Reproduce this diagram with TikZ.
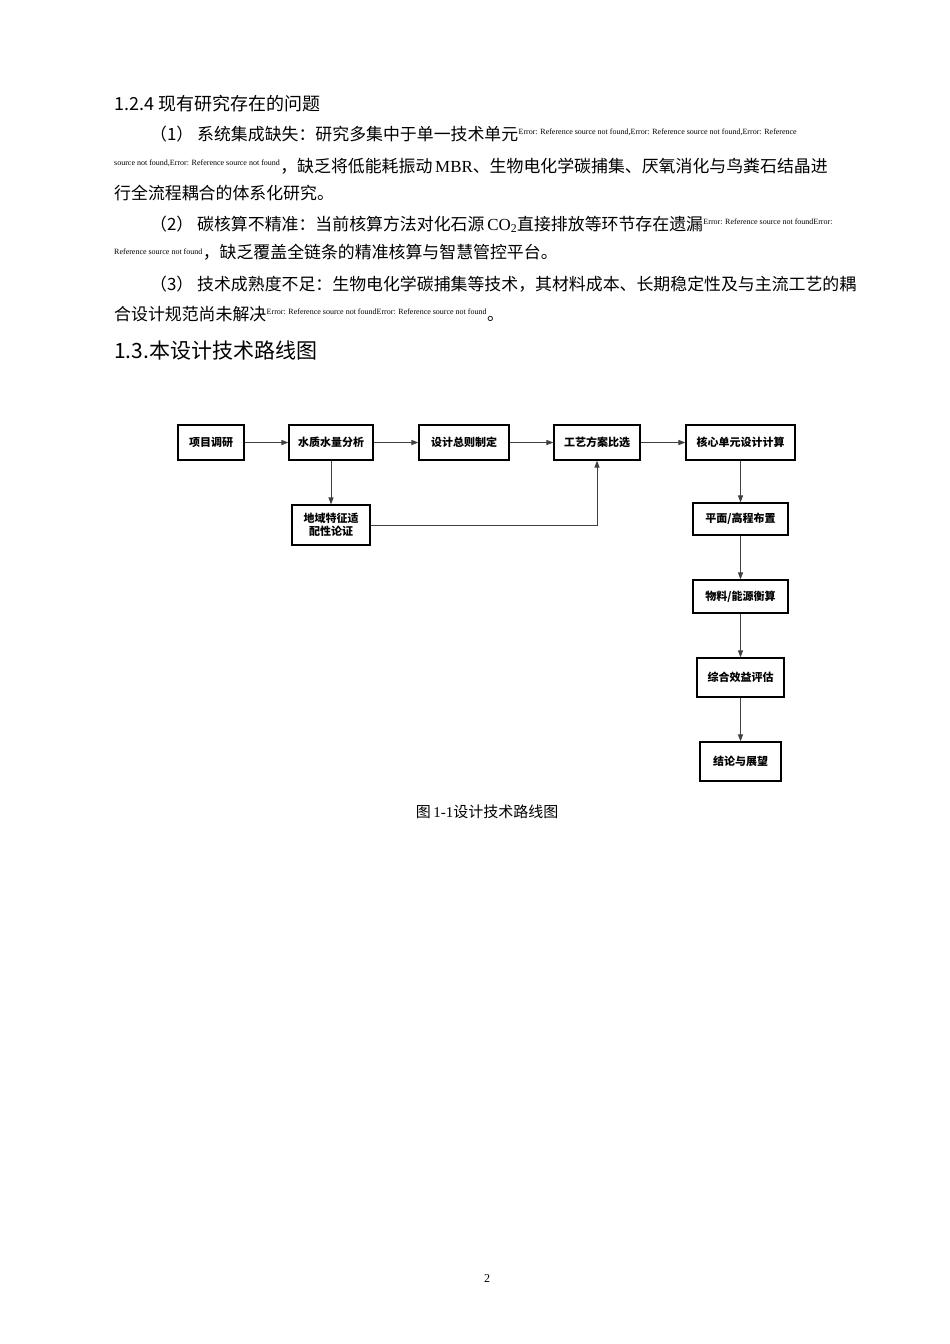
\documentclass[tikz,border=0pt]{standalone}
\usepackage{fontspec}
\setmainfont{Liberation Serif}
\newfontfamily\cj{Noto Sans CJK SC}
\usetikzlibrary{arrows.meta}
\begin{document}
\begin{tikzpicture}[x=1pt,y=-1pt,
  box/.style={draw,line width=1.1pt,minimum height=35pt,inner sep=2pt,font=\cj\bfseries\fontsize{11}{13}\selectfont,align=center},
  arr/.style={draw=black!75,line width=1pt,-{Triangle[length=7pt,width=5pt]}},
  t/.style={anchor=base west,inner sep=0pt,font=\cj\fontsize{16.9}{18}\selectfont},
  er/.style={anchor=base west,inner sep=0pt,font=\fontsize{8}{9}\selectfont}]
\useasboundingbox (0,0) rectangle (950,1344);
\node[t,font=\cj\fontsize{18}{20}\selectfont] (h1) at (114,110) {1.2.4 现有研究存在的问题};
\node[t] (l1) at (150,140) {（1） 系统集成缺失：研究多集中于单一技术单元};
\node[er] (e1) at (l1.base east) [yshift=6pt] {Error: Reference source not found,Error: Reference source not found,Error: Reference};
\node[er] (e2) at (114,165) {source not found,Error: Reference source not found};
\node[t] (l2) at (e2.base east) [yshift=-7pt] {，缺乏将低能耗振动\,\rmfamily MBR\cj、生物电化学碳捕集、厌氧消化与鸟粪石结晶进};
\node[t] (l3) at (114,199) {行全流程耦合的体系化研究。};
\node[t] (l4) at (150,230) {（2） 碳核算不精准：当前核算方法对化石源\,\rmfamily CO\textsubscript{2}\cj 直接排放等环节存在遗漏};
\node[er] (e3) at (l4.base east) [yshift=6pt] {Error: Reference source not foundError:};
\node[er] (e4) at (114,254) {Reference source not found};
\node[t] (l5) at (e4.base east) [yshift=-4pt] {，缺乏覆盖全链条的精准核算与智慧管控平台。};
\node[t] (l6) at (150,290) {（3） 技术成熟度不足：生物电化学碳捕集等技术，其材料成本、长期稳定性及与主流工艺的耦};
\node[t] (l7) at (114,320) {合设计规范尚未解决};
\node[er] (e5) at (l7.base east) [yshift=6pt] {Error: Reference source not foundError: Reference source not found};
\node[t] (l7b) at (e5.base east) [yshift=-6pt] {。};
\node[t,font=\cj\fontsize{21}{23}\selectfont] (h2) at (114,358) {1.3.本设计技术路线图};

\node[box,minimum width=66pt] (a) at (211,442.5) {项目调研};
\node[box,minimum width=84pt] (b) at (331,442.5) {水质水量分析};
\node[box,minimum width=90pt] (c) at (464,442.5) {设计总则制定};
\node[box,minimum width=86pt] (d) at (597,442.5) {工艺方案比选};
\node[box,minimum width=109pt] (e) at (740.5,442.5) {核心单元设计计算};
\node[box,minimum width=78pt,minimum height=40pt] (f) at (331,525) {地域特征适\\配性论证};
\node[box,minimum width=95pt,minimum height=32pt] (g) at (740.5,519) {平面/高程布置};
\node[box,minimum width=95pt,minimum height=33pt] (h) at (740.5,596.5) {物料/能源衡算};
\node[box,minimum width=87pt,minimum height=39pt] (i) at (740.5,677.5) {综合效益评估};
\node[box,minimum width=81pt,minimum height=39pt] (j) at (740.5,761.5) {结论与展望};
\draw[arr] (a) -- (b);
\draw[arr] (b) -- (c);
\draw[arr] (c) -- (d);
\draw[arr] (d) -- (e);
\draw[arr] (b) -- (f);
\draw[arr] (f.east) -| (d.south);
\draw[arr] (e) -- (g);
\draw[arr] (g) -- (h);
\draw[arr] (h) -- (i);
\draw[arr] (i) -- (j);
\node[anchor=base,inner sep=0pt,font=\fontsize{15}{17}\selectfont] (cap) at (487,817) {{\cj 图}\,1-1{\cj 设计技术路线图}};
\node[anchor=base,inner sep=0pt,font=\fontsize{12}{14}\selectfont] (pn) at (487,1282) {2};
\end{tikzpicture}
\end{document}
